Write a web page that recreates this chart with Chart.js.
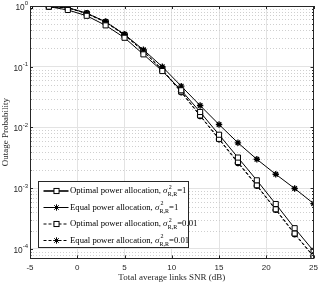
<!DOCTYPE html>
<html>
<head>
<meta charset="utf-8">
<script src="https://cdn.jsdelivr.net/npm/chart.js@4"></script>
<style>
  html, body { margin: 0; padding: 0; background: #fff; }
  #wrap { width: 323px; height: 284px; position: relative; }
</style>
</head>
<body>
<div id="wrap"><canvas id="chart"></canvas></div>
<script>
// SNR points (dB)
const snr = [-5, -3, -1, 1, 3, 5, 7, 9, 11, 13, 15, 17, 19, 21, 23, 25];

// outage probability
const optimalR1 = [1.0, 0.975, 0.86, 0.69, 0.48, 0.30, 0.16, 0.085, 0.041, 0.018, 0.0076, 0.0032, 0.00135, 0.00055, 0.00022, 0.000093];
const equalR1 = [1.0, 0.975, 0.94, 0.76, 0.55, 0.34, 0.19, 0.10, 0.048, 0.023, 0.0112, 0.0056, 0.0030, 0.0017, 0.00099, 0.00056];
const optimalR001 = [1.0, 0.975, 0.93, 0.75, 0.54, 0.33, 0.18, 0.09, 0.039, 0.0158, 0.0065, 0.0027, 0.00112, 0.00045, 0.00018, 0.000076];
const equalR001 = [1.0, 0.975, 0.94, 0.76, 0.55, 0.34, 0.18, 0.088, 0.038, 0.0155, 0.0064, 0.0026, 0.0011, 0.00044, 0.000175, 0.000075];

const xTicks = [-5, 0, 5, 10, 15, 20, 25];
const yDecades = [0, -1, -2, -3, -4];

const legendLabels = ['Optimal power allocation', 'Equal power allocation', 'Optimal power allocation', 'Equal power allocation'];
const legendVar = ['1', '1', '0.01', '0.01'];

const serif = '"Liberation Serif", "Times New Roman", serif';
const sans = '"Liberation Sans", Arial, sans-serif';

function pts(ys) {
  return snr.map((x, i) => ({ x: x, y: ys[i] }));
}

function series(ys, style, dashed, bw) {
  return {
    data: pts(ys),
    borderColor: '#000',
    borderWidth: 1,
    borderDash: dashed ? [3, 2] : [],
    pointStyle: style,
    pointRadius: style === 'rect' ? 3.6 : 3.2,
    pointBorderWidth: bw,
    pointBorderColor: '#000',
    pointBackgroundColor: '#fff',
    tension: 0
  };
}

const decor = {
  id: 'decor',
  beforeDatasetsDraw(chart) {
    const ctx = chart.ctx, a = chart.chartArea, ys = chart.scales.y;
    ctx.save();
    ctx.strokeStyle = '#cfcfcf';
    ctx.lineWidth = 1;
    ctx.setLineDash([1, 2]);
    for (let e = -5; e <= 0; e++) {
      for (let k = 2; k <= 9; k++) {
        const v = k * Math.pow(10, e);
        if (v < ys.min || v > ys.max) continue;
        const py = Math.round(ys.getPixelForValue(v)) + 0.5;
        ctx.beginPath();
        ctx.moveTo(a.left, py);
        ctx.lineTo(a.right, py);
        ctx.stroke();
      }
    }
    ctx.restore();
  },
  afterDraw(chart) {
    const ctx = chart.ctx, a = chart.chartArea, xs = chart.scales.x, ys = chart.scales.y;
    ctx.save();
    // box and inner ticks
    ctx.strokeStyle = '#262626';
    ctx.lineWidth = 1;
    ctx.strokeRect(Math.round(a.left) + 0.5, Math.round(a.top) + 0.5, Math.round(a.right - a.left) - 1, Math.round(a.bottom - a.top));
    ctx.beginPath();
    xTicks.forEach(v => {
      const px = Math.round(xs.getPixelForValue(v)) + 0.5;
      ctx.moveTo(px, a.bottom); ctx.lineTo(px, a.bottom - 3);
      ctx.moveTo(px, a.top); ctx.lineTo(px, a.top + 3);
    });
    for (let e = -5; e <= 0; e++) {
      for (let k = 1; k <= 9; k++) {
        const v = k * Math.pow(10, e);
        if (v < ys.min || v > ys.max) continue;
        const py = Math.round(ys.getPixelForValue(v)) + 0.5;
        const len = k === 1 ? 3 : 1.5;
        ctx.moveTo(a.left, py); ctx.lineTo(a.left + len, py);
        ctx.moveTo(a.right, py); ctx.lineTo(a.right - len, py);
      }
    }
    ctx.stroke();

    // y tick labels 10^e
    ctx.fillStyle = '#262626';
    ctx.textBaseline = 'middle';
    ctx.textAlign = 'left';
    yDecades.forEach(e => {
      const py = ys.getPixelForValue(Math.pow(10, e));
      const exp = String(e);
      ctx.font = '6px ' + sans;
      const ew = ctx.measureText(exp).width;
      ctx.font = '8.3px ' + sans;
      const bw = ctx.measureText('10').width;
      const xEnd = a.left - 2;
      ctx.fillText('10', xEnd - ew - bw, py + 1.5);
      ctx.font = '6px ' + sans;
      ctx.fillText(exp, xEnd - ew, py - 2.2);
    });

    // axis titles
    ctx.font = '9px ' + serif;
    ctx.textAlign = 'center';
    ctx.fillText('Total average links SNR (dB)', (a.left + a.right) / 2, 278);
    ctx.save();
    ctx.translate(6, (a.top + a.bottom) / 2);
    ctx.rotate(-Math.PI / 2);
    ctx.fillText('Outage Probability', 0, 0);
    ctx.restore();

    // legend
    const lx = a.left + 8.5, ly = 181.5, lw = 150, lh = 66;
    ctx.fillStyle = '#fff';
    ctx.fillRect(lx, ly, lw, lh);
    ctx.strokeStyle = '#262626';
    ctx.strokeRect(lx, ly, lw, lh);
    const rowY = [191, 207.5, 224, 240.5];
    chart.data.datasets.forEach((ds, i) => {
      const y = rowY[i];
      ctx.strokeStyle = '#000';
      ctx.lineWidth = i === 0 ? 1.6 : 1;
      ctx.setLineDash(ds.borderDash);
      ctx.beginPath();
      ctx.moveTo(lx + 5, y); ctx.lineTo(lx + 30, y);
      ctx.stroke();
      ctx.setLineDash([]);
      ctx.lineWidth = 1;
      if (ds.pointStyle === 'rect') {
        ctx.fillStyle = '#fff';
        const s = ds.pointRadius * Math.SQRT1_2;
        ctx.fillRect(lx + 18 - s, y - s, 2 * s, 2 * s);
        ctx.strokeRect(lx + 18 - s, y - s, 2 * s, 2 * s);
      } else {
        Chart.helpers.drawPoint(ctx, {
          pointStyle: ds.pointStyle, radius: ds.pointRadius, borderWidth: ds.pointBorderWidth
        }, lx + 18, y);
      }
      ctx.fillStyle = '#000';
      ctx.textAlign = 'left';
      ctx.textBaseline = 'middle';
      let tx = lx + 31.5;
      ctx.font = '8.7px ' + serif;
      const t = legendLabels[i] + ', ';
      ctx.fillText(t, tx, y);
      tx += ctx.measureText(t).width;
      ctx.font = 'italic 8.7px ' + serif;
      ctx.fillText('σ', tx, y);
      tx += ctx.measureText('σ').width + 0.3;
      ctx.font = '6px ' + serif;
      ctx.fillText('2', tx + 1, y - 4);
      ctx.fillText('R,R', tx, y + 3.5);
      tx += ctx.measureText('R,R').width;
      ctx.font = '8.7px ' + serif;
      ctx.fillText('=' + legendVar[i], tx, y);
    });
    ctx.restore();
  }
};

new Chart(document.getElementById('chart'), {
  type: 'line',
  data: {
    datasets: [
      series(optimalR1, 'rect', false, 1),
      series(equalR1, 'star', false, 1.3),
      series(optimalR001, 'rect', true, 1),
      series(equalR001, 'star', true, 2)
    ]
  },
  options: {
    responsive: true,
    maintainAspectRatio: false,
    animation: false,
    layout: { padding: { left: 30, right: 6, top: 5, bottom: 6 } },
    plugins: { legend: { display: false }, tooltip: { enabled: false } },
    scales: {
      x: {
        type: 'linear',
        min: -5,
        max: 25,
        afterBuildTicks: axis => { axis.ticks = xTicks.map(v => ({ value: v })); },
        ticks: { font: { size: 8, family: sans }, color: '#262626', padding: 5, maxRotation: 0 },
        grid: { color: '#e3e3e3', drawTicks: false },
        border: { display: false }
      },
      y: {
        type: 'logarithmic',
        min: 0.000075,
        max: 1,
        afterBuildTicks: axis => { axis.ticks = yDecades.map(e => ({ value: Math.pow(10, e), major: true })); },
        ticks: { display: false },
        grid: { color: '#e3e3e3', drawTicks: false },
        border: { display: false }
      }
    }
  },
  plugins: [decor]
});
</script>
</body>
</html>
